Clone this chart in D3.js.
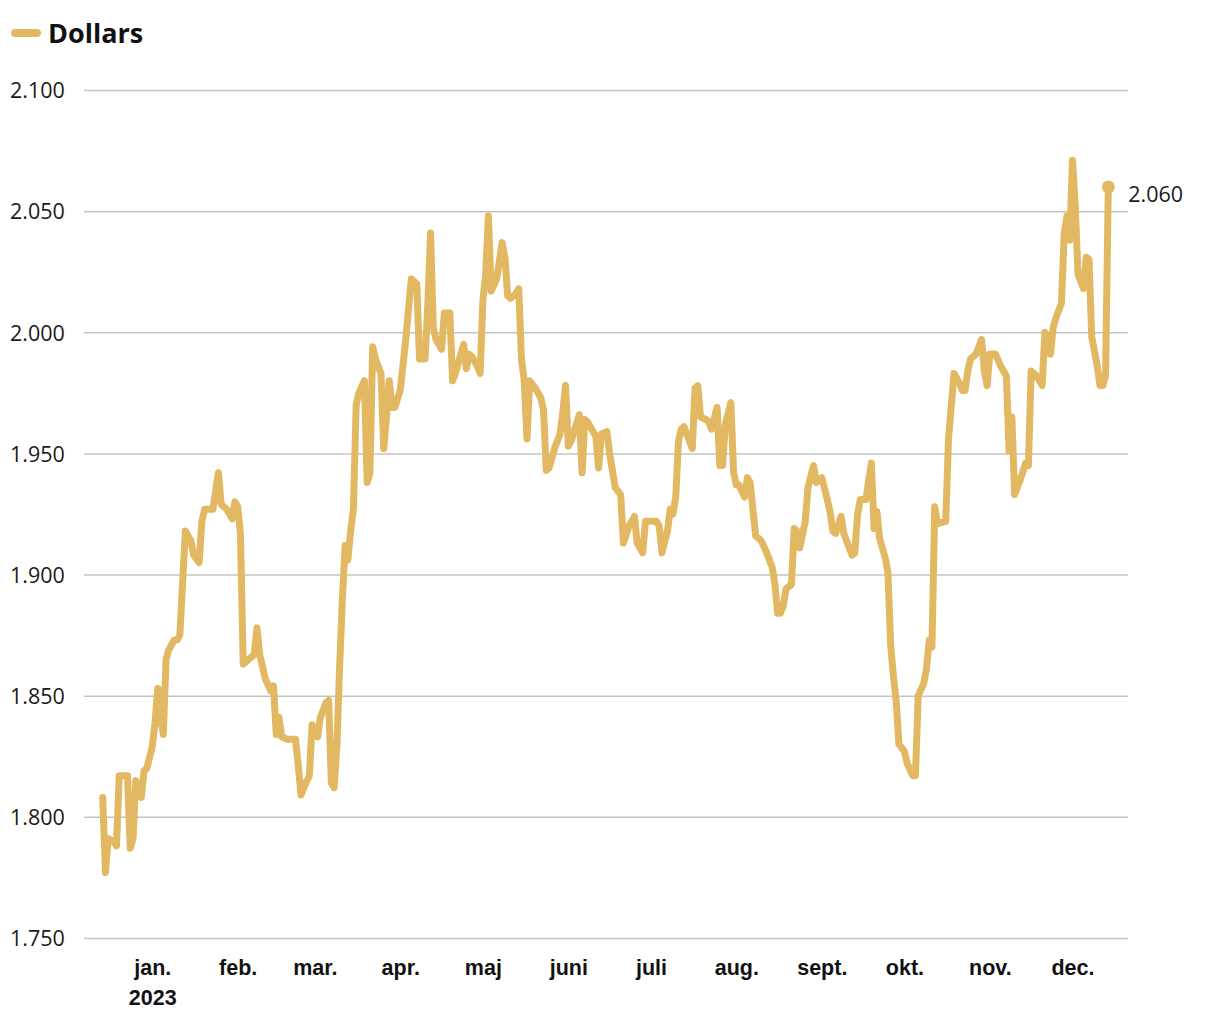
<!DOCTYPE html>
<html>
<head>
<meta charset="utf-8">
<script src="https://cdn.jsdelivr.net/npm/d3@7"></script>
<style>
  html, body { margin: 0; padding: 0; background: #ffffff; }
  svg { display: block; }
</style>
</head>
<body>
<svg id="chart" width="1220" height="1020"></svg>
<script>
// ---------- DATA ----------
const seriesName = "Dollars";
const dates = [
  "2022-12-14","2022-12-15","2022-12-16","2022-12-18","2022-12-19","2022-12-20","2022-12-23","2022-12-24","2022-12-25","2022-12-26",
  "2022-12-28","2022-12-29","2022-12-30","2023-01-01","2023-01-02","2023-01-03","2023-01-04","2023-01-05","2023-01-06","2023-01-07",
  "2023-01-09","2023-01-10","2023-01-11","2023-01-13","2023-01-15","2023-01-16","2023-01-18","2023-01-19","2023-01-20","2023-01-23",
  "2023-01-25","2023-01-26","2023-01-28","2023-01-30","2023-01-31","2023-02-01","2023-02-02","2023-02-03","2023-02-05","2023-02-07",
  "2023-02-08","2023-02-09","2023-02-11","2023-02-13","2023-02-14","2023-02-15","2023-02-16","2023-02-17","2023-02-19","2023-02-22",
  "2023-02-23","2023-02-24","2023-02-25","2023-02-27","2023-02-28","2023-03-02","2023-03-03","2023-03-05","2023-03-06","2023-03-07",
  "2023-03-08","2023-03-09","2023-03-10","2023-03-11","2023-03-12","2023-03-13","2023-03-14","2023-03-15","2023-03-16","2023-03-17",
  "2023-03-19","2023-03-20","2023-03-21","2023-03-22","2023-03-23","2023-03-25","2023-03-26","2023-03-27","2023-03-28","2023-03-29",
  "2023-03-30","2023-04-01","2023-04-03","2023-04-05","2023-04-07","2023-04-08","2023-04-10","2023-04-11","2023-04-12","2023-04-13",
  "2023-04-14","2023-04-16","2023-04-17","2023-04-19","2023-04-20","2023-04-21","2023-04-22","2023-04-24","2023-04-25","2023-04-26",
  "2023-04-27","2023-04-29","2023-04-30","2023-05-01","2023-05-02","2023-05-03","2023-05-04","2023-05-06","2023-05-08","2023-05-09",
  "2023-05-10","2023-05-11","2023-05-13","2023-05-14","2023-05-15","2023-05-16","2023-05-17","2023-05-18","2023-05-20","2023-05-22",
  "2023-05-23","2023-05-24","2023-05-25","2023-05-27","2023-05-29","2023-05-30","2023-05-31","2023-06-01","2023-06-02","2023-06-05",
  "2023-06-06","2023-06-07","2023-06-08","2023-06-11","2023-06-12","2023-06-13","2023-06-15","2023-06-16","2023-06-18","2023-06-20",
  "2023-06-21","2023-06-23","2023-06-25","2023-06-26","2023-06-28","2023-06-29","2023-07-03","2023-07-04","2023-07-05","2023-07-07",
  "2023-07-08","2023-07-09","2023-07-10","2023-07-11","2023-07-12","2023-07-13","2023-07-15","2023-07-16","2023-07-17","2023-07-18",
  "2023-07-19","2023-07-21","2023-07-22","2023-07-23","2023-07-25","2023-07-26","2023-07-27","2023-07-28","2023-07-30","2023-07-31",
  "2023-08-01","2023-08-02","2023-08-04","2023-08-05","2023-08-06","2023-08-08","2023-08-10","2023-08-12","2023-08-14","2023-08-15",
  "2023-08-16","2023-08-17","2023-08-18","2023-08-19","2023-08-21","2023-08-22","2023-08-23","2023-08-24","2023-08-26","2023-08-27",
  "2023-08-29","2023-08-30","2023-09-01","2023-09-03","2023-09-04","2023-09-05","2023-09-06","2023-09-08","2023-09-09","2023-09-11",
  "2023-09-12","2023-09-13","2023-09-14","2023-09-15","2023-09-17","2023-09-19","2023-09-20","2023-09-21","2023-09-22","2023-09-24",
  "2023-09-25","2023-09-26","2023-09-27","2023-09-28","2023-09-29","2023-10-01","2023-10-02","2023-10-04","2023-10-05","2023-10-06",
  "2023-10-08","2023-10-09","2023-10-10","2023-10-11","2023-10-12","2023-10-13","2023-10-16","2023-10-17","2023-10-19","2023-10-21",
  "2023-10-22","2023-10-23","2023-10-24","2023-10-25","2023-10-27","2023-10-29","2023-10-30","2023-10-31","2023-11-01","2023-11-03",
  "2023-11-05","2023-11-07","2023-11-08","2023-11-09","2023-11-10","2023-11-12","2023-11-14","2023-11-15","2023-11-16","2023-11-18",
  "2023-11-20","2023-11-21","2023-11-22","2023-11-23","2023-11-24","2023-11-25","2023-11-27","2023-11-28","2023-11-29","2023-11-30",
  "2023-12-01","2023-12-02","2023-12-03","2023-12-05","2023-12-06","2023-12-07","2023-12-08","2023-12-10","2023-12-11","2023-12-12",
  "2023-12-13","2023-12-14"
];
const values = [
  1808,1777,1791,1790,1788,1817,1817,1787,1791,1815,
  1808,1819,1820,1829,1839,1853,1841,1834,1865,1869,
  1873,1873,1875,1918,1914,1908,1905,1922,1927,1927,
  1942,1929,1927,1923,1930,1928,1917,1863,1865,1867,
  1878,1867,1857,1852,1854,1834,1841,1833,1832,1832,
  1821,1809,1812,1817,1838,1833,1841,1847,1848,1814,
  1812,1829,1862,1890,1912,1906,1918,1927,1970,1975,
  1980,1938,1942,1994,1989,1983,1952,1965,1980,1969,
  1969,1976,1997,2022,2020,1989,1989,2011,2041,2002,
  1997,1993,2008,2008,1980,1983,1987,1995,1985,1991,
  1990,1986,1983,2013,2024,2048,2017,2022,2037,2031,
  2015,2014,2016,2018,1989,1980,1956,1980,1977,1973,
  1968,1943,1944,1952,1958,1967,1978,1953,1955,1966,
  1942,1964,1963,1957,1944,1958,1959,1950,1936,1933,
  1913,1920,1924,1913,1909,1922,1922,1920,1909,1918,
  1927,1925,1932,1955,1960,1961,1955,1952,1977,1978,
  1965,1964,1963,1960,1969,1945,1945,1962,1971,1942,
  1937,1937,1932,1940,1938,1916,1914,1909,1903,1896,
  1884,1884,1887,1894,1896,1919,1918,1911,1922,1936,
  1945,1938,1940,1931,1926,1918,1917,1924,1917,1911,
  1908,1909,1925,1931,1931,1946,1919,1926,1915,1907,
  1901,1871,1858,1848,1830,1827,1822,1817,1817,1850,
  1855,1861,1873,1870,1928,1921,1922,1956,1983,1979,
  1976,1976,1984,1989,1991,1997,1984,1978,1991,1991,
  1986,1982,1951,1965,1933,1939,1946,1945,1984,1982,
  1978,2000,1998,1991,2002,2006,2012,2041,2048,2038,
  2071,2052,2024,2018,2031,2030,1998,1986,1978,1978,
  1982,2060
];
const monthTicks = ["2023-01-01","2023-02-01","2023-03-01","2023-04-01","2023-05-01","2023-06-01",
                    "2023-07-01","2023-08-01","2023-09-01","2023-10-01","2023-11-01","2023-12-01"];
const monthLabels = ["jan.","feb.","mar.","apr.","maj","juni","juli","aug.","sept.","okt.","nov.","dec."];
const yearLabel = "2023";
const yTicks = [1750, 1800, 1850, 1900, 1950, 2000, 2050, 2100];

// ---------- SETUP ----------
const parse = d3.utcParse("%Y-%m-%d");
const data = dates.map((d, i) => ({ date: parse(d), value: values[i] }));
const lineColor = "#E2B962";
const gridColor = "#c4c4c4";

const svg = d3.select("#chart");
const plotLeft = 84, plotRight = 1128, plotTop = 90, plotBottom = 938;

const x = d3.scaleUtc()
  .domain(d3.extent(data, d => d.date))
  .range([102.7, 1108.3]);
const y = d3.scaleLinear()
  .domain([1750, 2100])
  .range([plotBottom, plotTop]);

const locale = d3.formatLocale({ decimal: ",", thousands: ".", grouping: [3], currency: ["", " $"] });
const fmt = locale.format(",.0f");

// ---------- GRID + Y LABELS ----------
const yAxis = d3.axisLeft(y)
  .tickValues(yTicks)
  .tickSize(-(plotRight - plotLeft))
  .tickFormat(fmt);
const gy = svg.append("g")
  .attr("transform", `translate(${plotLeft},0)`)
  .call(yAxis);
gy.select(".domain").remove();
gy.selectAll(".tick line")
  .attr("stroke", gridColor)
  .attr("stroke-width", 1.5);
gy.selectAll(".tick text")
  .attr("x", 10 - plotLeft)
  .attr("dy", "0.36em")
  .attr("text-anchor", "start")
  .attr("fill", "#1a1a1a")
  .style("font-family", "'Open Sans', 'Noto Sans', sans-serif")
  .style("font-size", "21.5px");

// ---------- X AXIS ----------
const xAxis = d3.axisBottom(x)
  .tickValues(monthTicks.map(parse))
  .tickSize(0)
  .tickPadding(0)
  .tickFormat((d, i) => monthLabels[i]);
const gx = svg.append("g")
  .attr("transform", `translate(0,${plotBottom})`)
  .call(xAxis);
gx.select(".domain").remove();
gx.selectAll(".tick text")
  .attr("y", 37)
  .attr("dy", 0)
  .attr("fill", "#111")
  .style("font-family", "'Liberation Sans', Arial, Helvetica, sans-serif")
  .style("font-size", "21.5px")
  .style("font-weight", "bold");
gx.select(".tick text")
  .each(function () {
    d3.select(this).append("tspan")
      .attr("x", 0)
      .attr("dy", 30)
      .text(yearLabel);
  });

// ---------- LINE ----------
const line = d3.line()
  .x(d => x(d.date))
  .y(d => y(d.value));
svg.append("path")
  .datum(data)
  .attr("fill", "none")
  .attr("stroke", lineColor)
  .attr("stroke-width", 7)
  .attr("stroke-linejoin", "round")
  .attr("stroke-linecap", "round")
  .attr("d", line);

// ---------- END MARKER + LABEL ----------
const last = data[data.length - 1];
svg.append("circle")
  .attr("cx", x(last.date))
  .attr("cy", y(last.value))
  .attr("r", 6.5)
  .attr("fill", lineColor);
svg.append("text")
  .attr("x", x(last.date) + 20)
  .attr("y", y(last.value) + 7)
  .attr("dy", "0.36em")
  .attr("fill", "#1a1a1a")
  .style("font-family", "'Open Sans', 'Noto Sans', sans-serif")
  .style("font-size", "21.5px")
  .text(fmt(last.value));

// ---------- LEGEND ----------
const legend = svg.append("g").attr("transform", "translate(0,33)");
legend.append("line")
  .attr("x1", 15).attr("x2", 37)
  .attr("y1", 0).attr("y2", 0)
  .attr("stroke", lineColor)
  .attr("stroke-width", 8)
  .attr("stroke-linecap", "round");
legend.append("text")
  .attr("x", 48)
  .attr("y", 0)
  .attr("dy", "0.36em")
  .attr("fill", "#111")
  .style("font-family", "'Open Sans', 'Noto Sans', sans-serif")
  .style("font-size", "27px")
  .style("font-weight", "bold")
  .text(seriesName);
</script>
</body>
</html>
